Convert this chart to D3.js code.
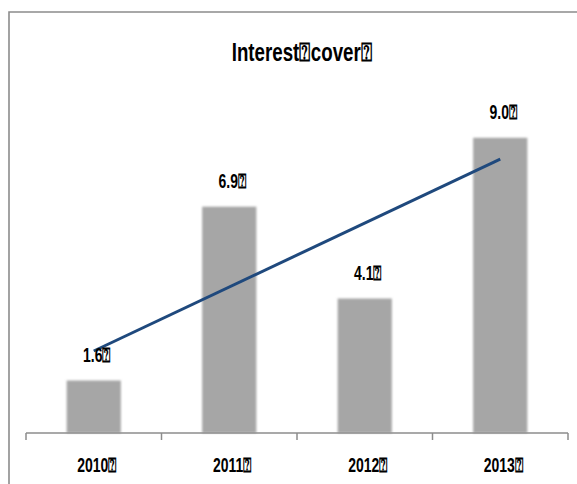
<!DOCTYPE html>
<html>
<head>
<meta charset="utf-8">
<script src="https://cdn.jsdelivr.net/npm/d3@7"></script>
<style>
  body { margin: 0; background: #fff; }
  text { font-family: "Liberation Sans", Arial, sans-serif; font-weight: bold; }
</style>
</head>
<body>
<script>
// data
const years = ['2010', '2011', '2012', '2013'];
const cover = [1.6, 6.9, 4.1, 9.0];
// linear trend line, value at first and last year
const trendYears = ['2010', '2013'];
const trendValues = [2.5, 8.35];
const mark = '\u2370';

const draw = () => {
    const width = 577, height = 484;
    const left = 26, right = 568, bottom = 433, top = 105;
    const squeeze = 0.7; // narrow bold look

    const svg = d3.select('body')
        .append('svg')
        .attr('width', width)
        .attr('height', height);

    // soft edges on the bars
    const defs = svg.append('defs');
    defs.append('filter')
        .attr('id', 'soft')
        .attr('x', '-10%').attr('y', '-10%')
        .attr('width', '120%').attr('height', '120%')
        .append('feGaussianBlur')
        .attr('stdDeviation', 1.2);

    // outer frame (cut off at right and bottom)
    svg.append('path')
        .attr('d', `M9,${height} L9,12 L${width},12`)
        .attr('fill', 'none')
        .attr('stroke', '#8c8c8c')
        .attr('stroke-width', 1.6);

    const x = d3.scaleBand()
        .domain(years)
        .range([left, right])
        .paddingInner(0.6)
        .paddingOuter(0.3);

    const y = d3.scaleLinear()
        .domain([0, 10])
        .range([bottom, top]);

    const label = (g, tx, ty, size, str, sq) => g.append('text')
        .attr('transform', `translate(${tx},${ty}) scale(${sq || squeeze},1)`)
        .attr('text-anchor', 'middle')
        .attr('font-size', size)
        .text(str);

    // bars
    svg.append('g')
        .selectAll('rect')
        .data(cover)
        .enter()
        .append('rect')
        .attr('x', (d, i) => x(years[i]))
        .attr('y', d => y(d))
        .attr('width', x.bandwidth())
        .attr('height', d => y(0) - y(d))
        .attr('fill', '#a6a6a6')
        .attr('filter', 'url(#soft)');

    // axis line with ticks between categories
    const step = (right - left) / years.length;
    const axis = svg.append('g');
    axis.append('line')
        .attr('x1', left).attr('x2', right)
        .attr('y1', bottom).attr('y2', bottom)
        .attr('stroke', '#8c8c8c')
        .attr('stroke-width', 1.5);
    axis.selectAll('.tick')
        .data(d3.range(years.length + 1))
        .enter()
        .append('line')
        .attr('x1', i => left + i * step)
        .attr('x2', i => left + i * step)
        .attr('y1', bottom)
        .attr('y2', bottom + 7)
        .attr('stroke', '#8c8c8c')
        .attr('stroke-width', 1.5);

    years.forEach(d => label(axis, x(d) + x.bandwidth() / 2 + 3, 472, 20, d + mark));

    // trend line
    const line = d3.line()
        .x((d, i) => x(trendYears[i]) + x.bandwidth() / 2)
        .y(d => y(d));
    svg.append('path')
        .attr('d', line(trendValues))
        .attr('fill', 'none')
        .attr('stroke', '#1f497d')
        .attr('stroke-width', 3);

    // value labels
    const vals = svg.append('g');
    cover.forEach((d, i) => label(vals, x(years[i]) + x.bandwidth() / 2 + 3, y(d) - 19, 20, d.toFixed(1) + mark));

    // title
    label(svg, 302, 61, 26, 'Interest' + mark + 'cover' + mark, 0.72);
};

draw();
</script>
</body>
</html>
